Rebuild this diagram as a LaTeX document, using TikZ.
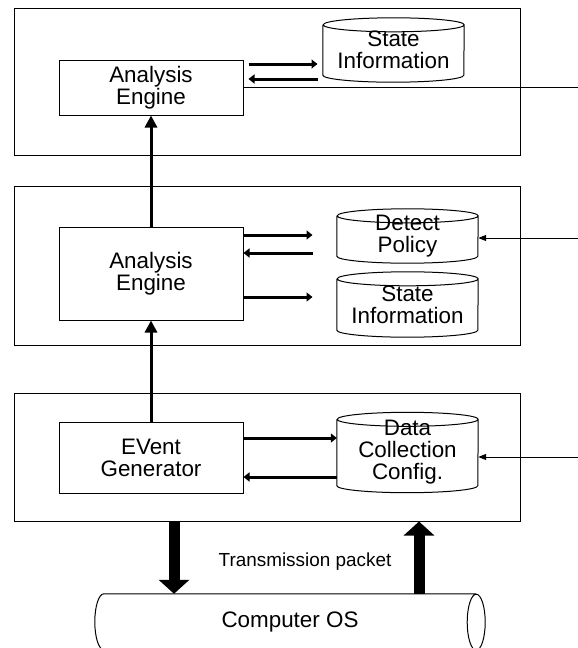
\documentclass[tikz,border=0pt]{standalone}
\usepackage{fontspec}
\setmainfont{Liberation Sans}
\usetikzlibrary{arrows.meta}

\begin{document}
\begin{tikzpicture}[x=1pt,y=-1pt,
    every node/.style={inner sep=0pt, align=center, font=\fontsize{22.4}{22}\selectfont},
    layer/.style={draw, line width=1pt, minimum width=506pt},
    unit/.style={draw, line width=1pt, minimum width=184pt},
    store/.style={minimum width=141pt},
    flow/.style={line width=3pt, -{Triangle[length=6pt,width=9pt]}},
    upflow/.style={line width=3pt, -{Triangle[length=12pt,width=12pt]}},
    feed/.style={line width=1pt, -{Triangle[length=8pt,width=6pt]}},
    packet/.style={line width=11pt, -{Triangle[length=14pt,width=30pt]}}]
    \useasboundingbox (0,0) rectangle (578,648);
    \node[layer, minimum height=147pt] (toplayer) at (267,81.5) {};
    \node[layer, minimum height=159pt] (midlayer) at (267,265.5) {};
    \node[layer, minimum height=128pt] (botlayer) at (267,457) {};
    \node[unit, minimum height=55pt] (engA) at (151,87.5) {Analysis\\Engine};
    \node[unit, minimum height=93pt] (engB) at (151,273.5) {Analysis\\Engine};
    \node[unit, minimum height=71pt] (evgen) at (151,457.5) {EVent\\Generator};
    \node[store, minimum height=64pt] (stateA) at (393.5,50) {State\\Information};
    \node[store, minimum height=54pt] (detect) at (407.5,236) {Detect\\Policy};
    \node[store, minimum height=65pt] (stateB) at (407.5,304.5) {State\\Information};
    \node[store, minimum height=80pt] (datacfg) at (407.5,452.5) {Data\\Collection\\Config.};
    \foreach \s in {stateA,detect,stateB,datacfg}
        \draw[line width=1pt] ([yshift=-7pt]\s.north west) -- ([yshift=7pt]\s.south west)
            arc[start angle=180, end angle=360, x radius=70.5pt, y radius=7pt]
            -- ([yshift=-7pt]\s.north east)
            arc[start angle=0, end angle=180, x radius=70.5pt, y radius=7pt]
            arc[start angle=180, end angle=360, x radius=70.5pt, y radius=7pt];
    % drum of the host system
    \node[minimum width=390pt, minimum height=56pt] (os) at (290,622) {Computer OS};
    \draw[line width=1pt] ([xshift=-9pt]os.north east) -- ([xshift=9pt]os.north west)
        arc[start angle=90, end angle=270, x radius=9pt, y radius=28pt]
        -- ([xshift=-9pt]os.south east)
        arc[start angle=270, end angle=450, x radius=9pt, y radius=28pt]
        arc[start angle=90, end angle=270, x radius=9pt, y radius=28pt];
    \node[font=\fontsize{18.9}{20}\selectfont] (packet) at (305,562) {Transmission packet};
    \coordinate (outA) at (578,87.5);
    \coordinate (inD) at (578,238);
    \coordinate (inC) at (578,457);
    \draw[flow] ([xshift=5pt,yshift=23.5pt]engA.east) -- ++(69,0);
    \draw[flow] ([xshift=74pt,yshift=8.5pt]engA.east) -- ++(-69,0);
    \draw[line width=1pt] (engA.east) -- (outA);
    \draw[flow] ([yshift=38.5pt]engB.east) -- ++(69,0);
    \draw[flow] ([xshift=69pt,yshift=20.5pt]engB.east) -- ++(-69,0);
    \draw[flow] ([yshift=-23.5pt]engB.east) -- ++(69,0);
    \draw[flow] ([yshift=19.5pt]evgen.east) -- ([yshift=19.5pt]evgen.east -| datacfg.west);
    \draw[flow] ([yshift=-19.5pt]evgen.east -| datacfg.west) -- ([yshift=-19.5pt]evgen.east);
    \draw[feed] (inD) -- (inD -| detect.east);
    \draw[feed] (inC) -- (inC -| datacfg.east);
    \draw[upflow] (evgen) -- (engB);
    \draw[upflow] (engB) -- (engA);
    \draw[packet] ([xshift=-93pt]botlayer.south) -- ([xshift=-93pt]botlayer.south |- os.north);
    \draw[packet] ([xshift=152pt]botlayer.south |- os.north) -- ([xshift=152pt]botlayer.south);
\end{tikzpicture}
\end{document}
